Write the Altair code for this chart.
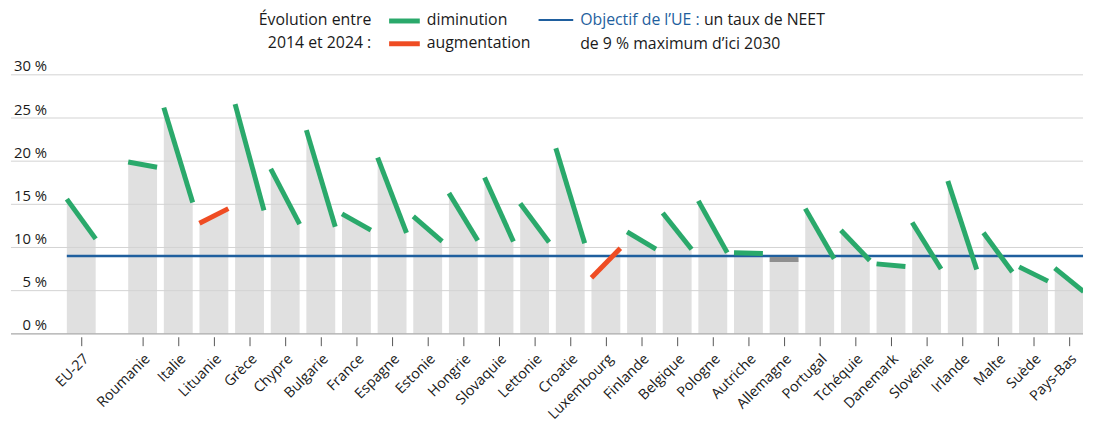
import json
import altair as alt
import pandas as pd

# ---------------- data ----------------
countries = ["EU-27", "Roumanie", "Italie", "Lituanie", "Grèce", "Chypre", "Bulgarie",
             "France", "Espagne", "Estonie", "Hongrie", "Slovaquie", "Lettonie", "Croatie",
             "Luxembourg", "Finlande", "Belgique", "Pologne", "Autriche", "Allemagne",
             "Portugal", "Tchéquie", "Danemark", "Slovénie", "Irlande", "Malte", "Suède",
             "Pays-Bas"]
v2014 = [15.6, 19.9, 26.2, 12.8, 26.6, 19.1, 23.6, 13.9, 20.4, 13.6, 16.3, 18.1, 15.1, 21.5,
         6.5, 11.8, 14.0, 15.4, 9.4, 8.6, 14.5, 12.0, 8.1, 12.9, 17.7, 11.7, 7.75, 7.6]
v2024 = [11.0, 19.3, 15.2, 14.5, 14.3, 12.7, 12.4, 12.0, 11.7, 10.7, 10.8, 10.7, 10.6, 10.5,
         9.9, 9.8, 9.8, 9.4, 9.3, 8.6, 8.7, 8.5, 7.8, 7.5, 7.45, 7.15, 6.1, 4.9]
y_ticks = [0, 5, 10, 15, 20, 25, 30]
eu_target = 9

# ---------------- layout ----------------
W, H = 1083, 327
EU_GAP = 62 / 36          # EU-27 sits apart from the countries
HALF = 0.405              # half bar width in slot units
X_DOMAIN = [-133 / 36, (W - 133) / 36]
Y_DOMAIN = [0, 37.5]

GREEN, RED, GREY_LINE = "#2aa96b", "#ef4c23", "#8f8f8f"
BLUE = "#1f5f9e"
BAR = "#e0e0e0"
FONT = "Open Sans"
TXT = "#1a1a1a"

positions = [-EU_GAP] + list(range(len(countries) - 1))

rows = []
for i, c in enumerate(countries):
    a, b = v2014[i], v2024[i]
    d = "diminution" if b < a else ("augmentation" if b > a else "stable")
    p = positions[i]
    rows.append({"country": c, "x": p - HALF, "v": a, "dir": d})
    rows.append({"country": c, "x": p + HALF, "v": b, "dir": d})
df = pd.DataFrame(rows)

names_js = json.dumps(countries[1:], ensure_ascii=False)
label_expr = f"datum.value < -1 ? 'EU-27' : {names_js}[round(datum.value)]"

x_enc = alt.X("x:Q",
              scale=alt.Scale(domain=X_DOMAIN, nice=False, zero=False),
              axis=alt.Axis(values=positions, labelExpr=label_expr, labelAngle=-45,
                            labelAlign="right", labelBaseline="top", labelPadding=6,
                            tickSize=9, tickColor="#555555", tickWidth=1, offset=3,
                            domain=False, grid=False, title=None, labelOverlap=False,
                            labelFlush=False, labelFont=FONT, labelFontSize=14.5,
                            labelColor=TXT))
y_enc = alt.Y("v:Q",
              scale=alt.Scale(domain=Y_DOMAIN, nice=False, zero=True),
              axis=alt.Axis(values=y_ticks, labelExpr="datum.value + ' %'",
                            grid=False, domain=False, ticks=False, tickSize=0,
                            labelAlign="right", labelPadding=-36,
                            labelBaseline="alphabetic", labelOffset=-4, title=None,
                            labelFont=FONT, labelFontSize=15, labelColor=TXT))

bars = alt.Chart(df).mark_area(color=BAR, clip=True).encode(
    x=x_enc, y=y_enc, y2=alt.datum(0), detail="country:N")

grid = alt.Chart(pd.DataFrame({"t": y_ticks[1:]})).mark_rule(
    color="#d2d2d2", strokeWidth=1).encode(
    y="t:Q", x=alt.value(0), x2=alt.value(W))

base = alt.Chart(pd.DataFrame({"t": [0]})).mark_rule(
    color="#a8a8a8", strokeWidth=1.2).encode(
    y="t:Q", x=alt.value(0), x2=alt.value(W))

target = alt.Chart(pd.DataFrame({"goal": [eu_target], "xs": [positions[0] - HALF]})).mark_rule(
    color=BLUE, strokeWidth=2.5).encode(
    y="goal:Q", x="xs:Q", x2=alt.value(W))

lines = alt.Chart(df).mark_line(strokeWidth=5, strokeCap="butt", clip=True).encode(
    x="x:Q", y="v:Q", detail="country:N",
    color=alt.Color("dir:N", legend=None,
                    scale=alt.Scale(domain=["diminution", "augmentation", "stable"],
                                    range=[GREEN, RED, GREY_LINE])))

# ---------------- custom legend ----------------
one = pd.DataFrame({"k": [0]})


def txt(s, x, y, align="left", color=TXT, size=16):
    return alt.Chart(one).mark_text(text=s, align=align, baseline="middle", font=FONT,
                                    fontSize=size, color=color).encode(
        x=alt.value(x), y=alt.value(y))


def swatch(x1, x2, y, color, w):
    return alt.Chart(one).mark_rule(color=color, strokeWidth=w).encode(
        x=alt.value(x1), x2=alt.value(x2), y=alt.value(y))


legend = [
    txt("Évolution entre", 364, 10, align="right"),
    txt("2014 et 2024 :", 364, 33, align="right"),
    swatch(382, 413, 11, GREEN, 5),
    swatch(382, 413, 34, RED, 5),
    txt("diminution", 420, 10),
    txt("augmentation", 420, 33),
    swatch(533, 568, 10, BLUE, 2),
    txt("Objectif de l’UE :", 575, 10, color=BLUE),
    txt("un taux de NEET", 700, 10),
    txt("de 9 % maximum  d’ici 2030", 575, 34),
]

chart = alt.layer(bars, grid, base, target, lines, *legend).properties(
    width=W, height=H,
    padding={"left": 2, "top": 0, "right": 0, "bottom": 0},
    background="white",
).configure_view(stroke=None)

chart.save("out.html", embed_options={"renderer": "svg", "actions": False})
